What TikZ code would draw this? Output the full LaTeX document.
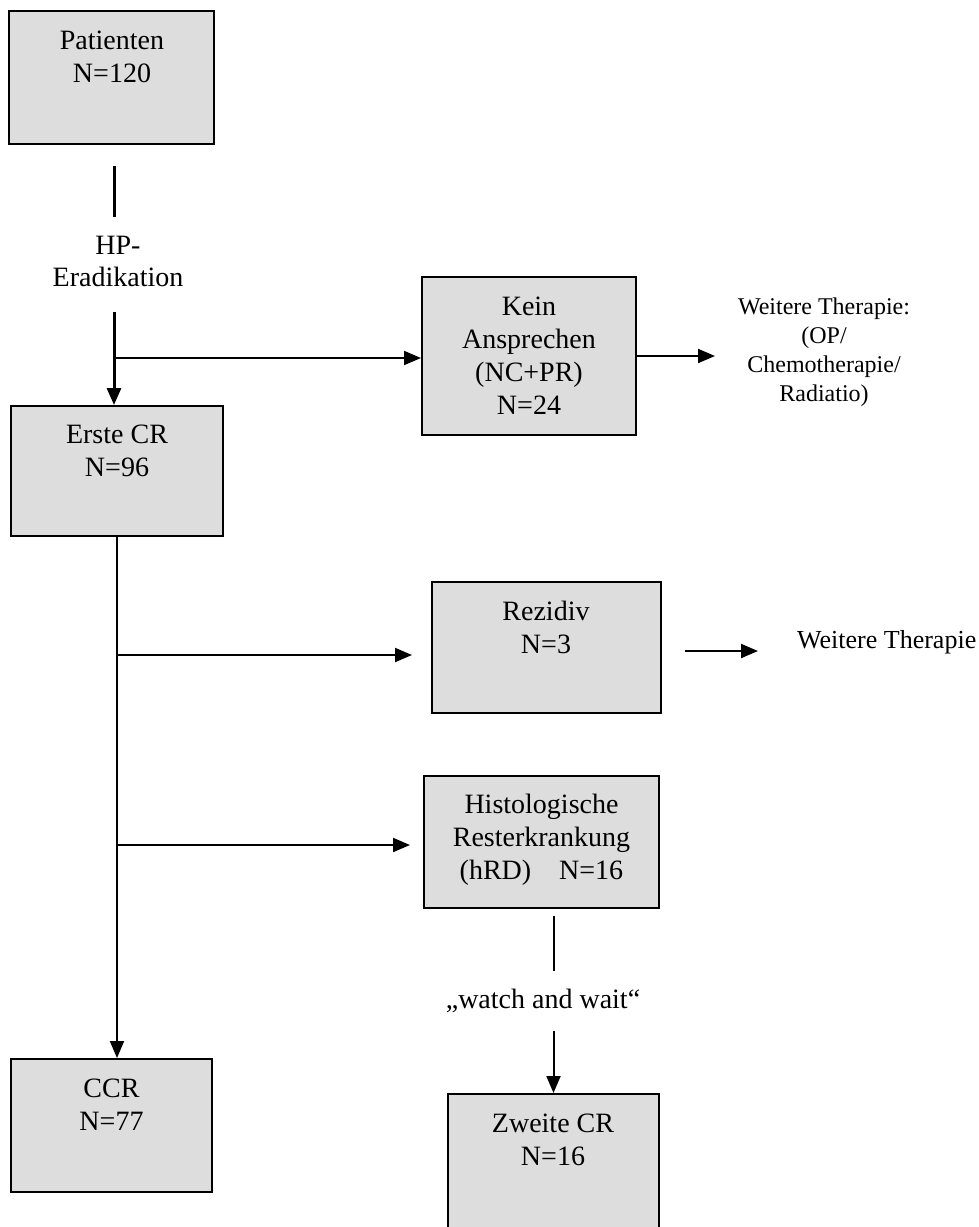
\documentclass[tikz,border=0pt]{standalone}
\usepackage{xcolor}
\usepackage{fontspec}
\setmainfont{Liberation Serif}
\usepackage{tikz}
\usetikzlibrary{arrows.meta}

\definecolor{boxgray}{RGB}{221,221,221}
\newcommand{\boxfont}{\fontsize{28}{33}\selectfont}
\newcommand{\sidefont}{\fontsize{24}{29}\selectfont}

\begin{document}
\begin{tikzpicture}[x=1pt,y=1pt,yscale=-1,xscale=1,
  box/.style={draw, line width=2pt, fill=boxgray, inner sep=0pt},
  boxtext/.style={anchor=north, inner sep=0pt, align=center, font=\boxfont},
  trunk/.style={line width=3pt},
  branch/.style={line width=2pt},
  arr/.style={line width=2pt, -{Triangle[length=17pt,width=14pt]}}]
\useasboundingbox (0,0) rectangle (978,1227);
\clip (0,0) rectangle (978,1227);

%Shape: Rectangle [Patienten]
\node [box, minimum width=205pt, minimum height=133pt] (pat) at (111.5,77.5) {};
%Shape: Rectangle [Kein Ansprechen]
\node [box, minimum width=214pt, minimum height=158pt] (kein) at (529,356) {};
%Shape: Rectangle [Erste CR]
\node [box, minimum width=212pt, minimum height=130pt] (erste) at (117,471) {};
%Shape: Rectangle [Rezidiv]
\node [box, minimum width=229pt, minimum height=131pt] (rez) at (546.5,647.5) {};
%Shape: Rectangle [hRD]
\node [box, minimum width=235pt, minimum height=132pt] (hist) at (541.5,842) {};
%Shape: Rectangle [CCR]
\node [box, minimum width=201pt, minimum height=133pt] (ccr) at (111.5,1125.5) {};
%Shape: Rectangle [Zweite CR]
\node [box, minimum width=211pt, minimum height=136pt] (zweite) at (553.5,1162) {};

% Text Node
\node [boxtext] (patT) at (112,31) {Patienten\\N=120};
% Text Node
\node [boxtext] (keinT) at (529,297) {Kein\\Ansprechen\\(NC+PR)\\N=24};
% Text Node
\node [boxtext] (ersteT) at (117,425) {Erste CR\\N=96};
% Text Node
\node [boxtext] (rezT) at (546,601) {Rezidiv\\N=3};
% Text Node
\node [boxtext] (histT) at (541.5,794) {Histologische\\Resterkrankung\\(hRD)\quad N=16};
% Text Node
\node [boxtext] (ccrT) at (111.5,1079) {CCR\\N=77};
% Text Node
\node [boxtext] (zweiteT) at (553,1114) {Zweite CR\\N=16};
% Text Node
\node [boxtext, font=\fontsize{28}{32}\selectfont] (hp) at (118,236) {HP-\\Eradikation};
% Text Node
\node [anchor=north, inner sep=0pt, align=center, font=\sidefont] (wt1) at (824,298) {Weitere Therapie:\\(OP/\\Chemotherapie/\\Radiatio)};
% Text Node
\node [anchor=base west, inner sep=0pt, font=\fontsize{26}{30}\selectfont] (wt2) at (797,648) {Weitere Therapie};
% Text Node
\node [anchor=base, inner sep=0pt, font=\boxfont] (ww) at (543,1008) {\quotedblbase watch and wait\textquotedblleft};

% free ends
\coordinate (l1top) at (114,166);
\coordinate (l1bot) at (114,217);
\coordinate (l2top) at (114,312);
\coordinate (b1) at (114,358);
\coordinate (k1) at (715,357);
\coordinate (b2) at (117,655);
\coordinate (r2) at (758,651);
\coordinate (b3) at (117,845);

%Straight Lines
\draw [trunk] (l1top) -- (l1bot);
\draw [arr, line width=3pt] (l2top) -- (l2top |- erste.north);
\draw [arr] (b1) -- (b1 -| kein.west);
\draw [arr] (kein.east) -- (kein.east -| k1);
\draw [arr] (erste.south) -- (erste.south |- ccr.north);
\draw [arr, shorten >=19pt] (b2) -- (b2 -| rez.west);
\draw [arr, shorten <=23pt] (rez.east |- r2) -- (r2);
\draw [arr, shorten >=13pt] (b3) -- (b3 -| hist.west);
\draw [branch, shorten <=7pt, shorten >=17pt] (zweite.north |- hist.south) -- (zweite.north |- ww.north);
\draw [arr, shorten <=18pt] (zweite.north |- ww.south) -- (zweite.north);

\end{tikzpicture}
\end{document}
